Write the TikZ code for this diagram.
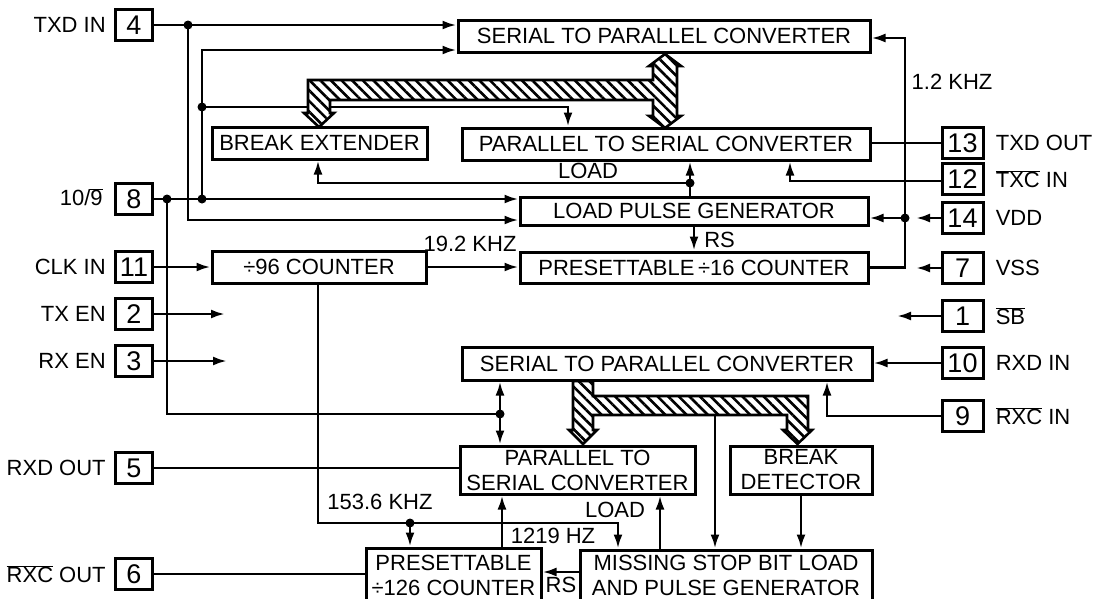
\documentclass[tikz,border=0pt]{standalone}
\usepackage{fontspec}
\setmainfont{Liberation Sans}
\usetikzlibrary{arrows.meta,positioning,patterns.meta}
\newcommand\ovl[1]{$\overline{\hbox{#1}}$}

\begin{document}
\begin{tikzpicture}[x=1pt,y=-1pt,line width=2.6pt,
 blk/.style={draw,line width=3pt,inner sep=0pt,align=center,font=\fontsize{22}{25}\selectfont},
 pinbox/.style={draw,line width=3pt,inner sep=0pt,minimum width=37pt,minimum height=31pt,font=\fontsize{27}{27}\selectfont},
 lbl/.style={font=\fontsize{22}{25}\selectfont,inner sep=0pt},
 arr/.style={-{Latex[length=14pt,width=9pt]}},
 jdot/.style={circle,fill,inner sep=0pt,minimum size=9pt},
 bus/.style={line width=2.6pt,preaction={fill=white},pattern={Lines[angle=-45,distance=7.5pt,line width=2.6pt]}}]
\useasboundingbox (0,0) rectangle (1098,598);
\clip (0,0) rectangle (1098,598);
% transmitter blocks
\node[blk,minimum width=412pt,minimum height=32pt] (spcT) at (664,36) {SERIAL TO PARALLEL CONVERTER};
\node[blk,minimum width=215pt,minimum height=32pt] (brkx) at (319.5,143) {BREAK EXTENDER};
\node[blk,minimum width=408pt,minimum height=32pt] (pscT) at (666,144) {PARALLEL TO SERIAL CONVERTER};
\node[blk,minimum width=348pt,minimum height=28pt] (lpg) at (694,211) {LOAD PULSE GENERATOR};
\node[blk,minimum width=348pt,minimum height=31pt] (div16) at (694,267.5) {PRESETTABLE\,÷16 COUNTER};
\node[blk,minimum width=214pt,minimum height=32pt] (div96) at (319,267) {÷96 COUNTER};
% receiver blocks
\node[blk,minimum width=410pt,minimum height=33pt] (spcB) at (667,363.5) {SERIAL TO PARALLEL CONVERTER};
\node[blk,minimum width=235pt,minimum height=48pt] (pscB) at (577.5,470) {PARALLEL TO\\SERIAL CONVERTER};
\node[blk,minimum width=142pt,minimum height=48pt] (brkd) at (801,470) {BREAK\\DETECTOR};
\node[blk,minimum width=175pt,minimum height=54pt] (div126) at (453.5,575) {PRESETTABLE\\÷126 COUNTER};
\node[blk,minimum width=292pt,minimum height=50pt] (msb) at (726,575) {MISSING STOP BIT LOAD\\AND PULSE GENERATOR};
% pins
\node[pinbox] (p4) at (134,25) {4};
\node[pinbox] (p8) at (134,199) {8};
\node[pinbox] (p11) at (134,267) {11};
\node[pinbox] (p2) at (134,314) {2};
\node[pinbox] (p3) at (134,361) {3};
\node[pinbox] (p5) at (134,468) {5};
\node[pinbox] (p6) at (134,574) {6};
\node[pinbox,minimum width=41pt] (p13) at (962.5,143) {13};
\node[pinbox,minimum width=41pt] (p12) at (962.5,179) {12};
\node[pinbox,minimum width=41pt] (p14) at (962.5,218) {14};
\node[pinbox,minimum width=41pt] (p7) at (962.5,268) {7};
\node[pinbox,minimum width=41pt] (p1) at (962.5,316) {1};
\node[pinbox,minimum width=41pt] (p10) at (962.5,363) {10};
\node[pinbox,minimum width=41pt] (p9) at (962.5,416) {9};
\node[lbl,left=7pt of p4] (l4) {TXD IN};
\node[lbl,left=10pt of p8,yshift=2pt] (l8) {10/\ovl{9}};
\node[lbl,left=7pt of p11] (l11) {CLK IN};
\node[lbl,left=7pt of p2] (l2) {TX EN};
\node[lbl,left=7pt of p3] (l3) {RX EN};
\node[lbl,left=7pt of p5] (l5) {RXD OUT};
\node[lbl,left=7pt of p6] (l6) {\ovl{RXC} OUT};
\node[lbl,right=10pt of p13] (l13) {TXD OUT};
\node[lbl,right=10pt of p12] (l12) {\ovl{TXC} IN};
\node[lbl,right=10pt of p14] (l14) {VDD};
\node[lbl,right=10pt of p7] (l7) {VSS};
\node[lbl,right=10pt of p1] (l1) {\ovl{SB}};
\node[lbl,right=10pt of p10] (l10) {RXD IN};
\node[lbl,right=10pt of p9] (l9) {\ovl{RXC} IN};
% junctions and bends
\node[jdot] (d4) at (188,25) {};
\node[jdot] (d8a) at (167,199) {};
\node[jdot] (d8b) at (202,199) {};
\node[jdot] (dbr) at (202,107) {};
\node[jdot] (dld) at (690,183) {};
\node[jdot] (dck) at (905,218) {};
\node[jdot] (drx) at (500,414) {};
\node[jdot] (d153) at (410,523) {};
\coordinate (tA) at (188,220);
\coordinate (tB) at (202,50);
\coordinate (tC) at (568,107);
\coordinate (tX) at (318,183);
\coordinate (t12) at (790,181);
\coordinate (tTop) at (905,38);
\coordinate (t8) at (167,414);
\coordinate (t96) at (318,523);
\coordinate (t1219) at (618,523);
\coordinate (tU) at (502,548);
\coordinate (tL) at (660,550);
\coordinate (tBus) at (715,415);
\coordinate (t9) at (827,416);
\coordinate (e2) at (225,314);
\coordinate (e3) at (227,361);
\coordinate (e1) at (897,316);
\coordinate (e14) at (916,218);
\coordinate (e7) at (916,268);
% transmitter connections
\draw[arr] (p4.east) -- (p4.east -| spcT.west);
\draw[arr] (d4.center) -- (tA) -- (tA -| lpg.west);
\draw[arr] (p8.east) -- (p8.east -| lpg.west);
\draw[arr] (d8b.center) -- (tB) -- (tB -| spcT.west);
\draw[arr] (dbr.center) -- (tC) -- (tC |- pscT.north);
\draw[arr] (dld.center |- lpg.north) -- (dld.center |- pscT.south);
\draw[arr] (dld.center) -- (tX) -- (tX |- brkx.south);
\draw[arr] (p12.west |- t12) -- (t12) -- (t12 |- pscT.south);
\draw (p13.west) -- (p13.west -| pscT.east);
\draw[arr] (div16.east) -- (div16.east -| tTop) -- (tTop) -- (tTop -| spcT.east);
\draw[arr] (dck.center) -- (dck.center -| lpg.east);
\draw[arr] (lpg.south) -- (div16.north);
\draw[arr] (p11.east) -- (div96.west);
\draw[arr] (div96.east) -- (div96.east -| div16.west);
\draw[arr] (p2.east) -- (e2);
\draw[arr] (p3.east) -- (e3);
\draw[arr] (p14.west) -- (e14);
\draw[arr] (p7.west) -- (e7);
\draw[arr] (p1.west) -- (e1);
% receiver connections
\draw (d8a.center) -- (t8) -- (drx.center);
\draw[arr] (drx.center) -- (drx.center |- spcB.south);
\draw[arr] (drx.center) -- (drx.center |- pscB.north);
\draw[arr] (p10.west) -- (p10.west -| spcB.east);
\draw[arr] (p9.west) -- (t9) -- (t9 |- spcB.south);
\draw (p5.east) -- (p5.east -| pscB.west);
\draw (p6.east) -- (p6.east -| div126.west);
\draw[arr] (div96.south -| t96) -- (t96) -- (t1219) -- (t1219 |- msb.north);
\draw[arr] (d153.center) -- (d153.center |- div126.north);
\draw[arr] (tU) -- (tU |- pscB.south);
\draw[arr] (tL) -- (tL |- pscB.south);
\draw[arr] (tBus) -- (tBus |- msb.north);
\draw[arr] (brkd.south) -- (brkd.south |- msb.north);
\draw[arr] (msb.west |- 0,572) -- (div126.east |- 0,572);
% hatched buses
\draw[bus] (665,54) -- (681,66) -- (677,66) -- (677,116) -- (681,116) -- (665,128)
  -- (649,116) -- (653,116) -- (653,100) -- (330,100) -- (330,113) -- (334,113)
  -- (319,127) -- (304,113) -- (308,113) -- (308,80) -- (653,80) -- (653,66)
  -- (649,66) -- cycle;
\draw[bus] (573,381) -- (593,381) -- (593,396) -- (808,396) -- (808,430) -- (812,430)
  -- (797.5,444) -- (783,430) -- (787,430) -- (787,415) -- (593,415) -- (593,430)
  -- (597,430) -- (583,444) -- (569,430) -- (573,430) -- cycle;
% signal names
\node[lbl] (f192) at (470,244) {19.2 KHZ};
\node[lbl] (f12) at (952,82) {1.2 KHZ};
\node[lbl] (ldT) at (588,171) {LOAD};
\node[lbl,anchor=west] (rsT) at (703,240) {RS};
\node[lbl] (f153) at (380,502) {153.6 KHZ};
\node[lbl] (f1219) at (553,536) {1219 HZ};
\node[lbl] (ldB) at (615,510) {LOAD};
\node[lbl] (rsB) at (561,585) {RS};
\end{tikzpicture}
\end{document}
